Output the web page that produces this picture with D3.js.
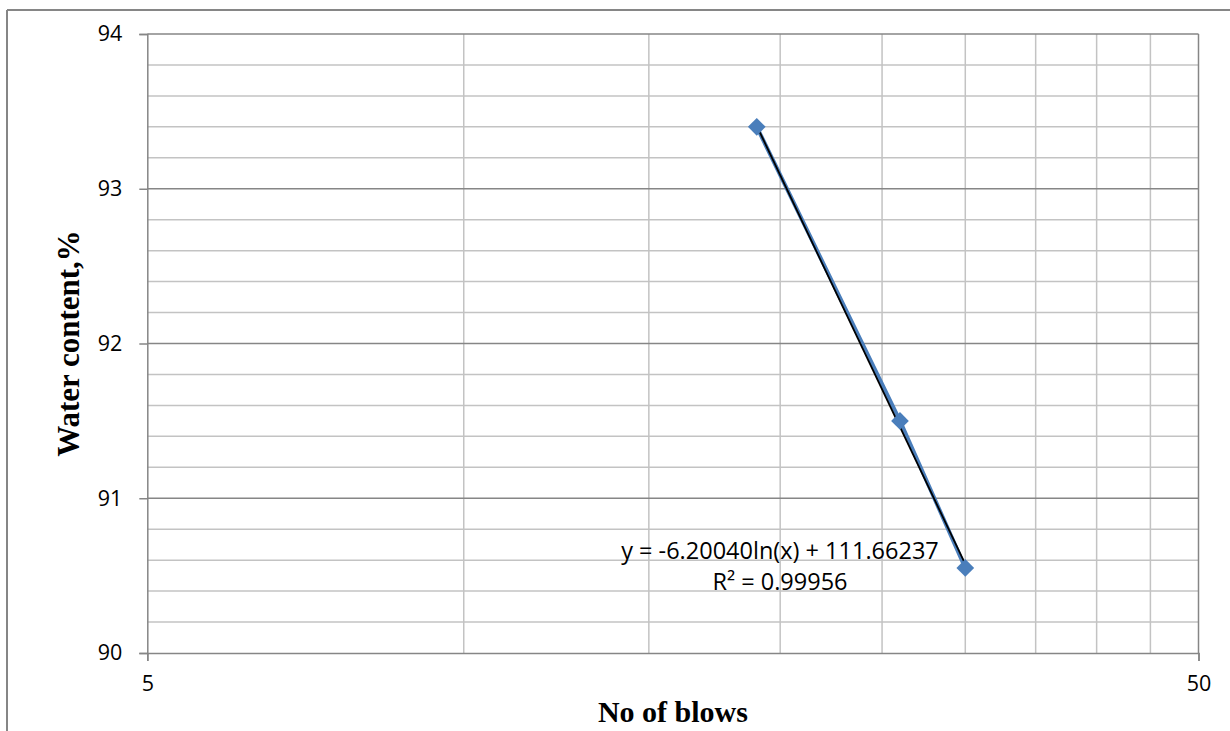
<!DOCTYPE html>
<html>
<head>
<meta charset="utf-8">
<script src="https://cdn.jsdelivr.net/npm/d3@7"></script>
<style>
  html, body { margin: 0; padding: 0; background: #fff; }
  svg { display: block; }
</style>
</head>
<body>
<svg id="chart" width="1230" height="731"></svg>
<script>
// ---- data ----
const blows = [19, 26, 30];
const waterContent = [93.4, 91.5, 90.55];
const trendSlope = -6.20040;
const trendIntercept = 111.66237;
const equationLines = ["y = -6.20040ln(x) + 111.66237", "R\u00B2 = 0.99956"];
const xTickLabels = [5, 50];
const xGridValues = [10, 15, 20, 25, 30, 35, 40, 45];
const yTickLabels = [90, 91, 92, 93, 94];
const yMinorValues = [90.2, 90.4, 90.6, 90.8, 91.2, 91.4, 91.6, 91.8, 92.2, 92.4, 92.6, 92.8, 93.2, 93.4, 93.6, 93.8];
const xTitle = "No of blows";
const yTitle = "Water content,%";

// ---- layout ----
const svg = d3.select("#chart");
const pLeft = 147.3, pRight = 1198.5, pTop = 34, pBottom = 653;
const x = d3.scaleLog().domain([5, 50]).range([pLeft, pRight]);
const y = d3.scaleLinear().domain([90, 94]).range([pBottom, pTop]);

const axisGray = "#868686";
const minorGray = "#c3c3c3";

// outer chart border (top and left visible)
svg.append("line").attr("x1", 7).attr("y1", 10).attr("x2", 1230).attr("y2", 10)
  .attr("stroke", axisGray).attr("stroke-width", 2);
svg.append("line").attr("x1", 7).attr("y1", 10).attr("x2", 7).attr("y2", 731)
  .attr("stroke", axisGray).attr("stroke-width", 2);

// minor horizontal grid
svg.append("g").selectAll("line").data(yMinorValues)
  .join("line")
  .attr("x1", pLeft).attr("x2", pRight)
  .attr("y1", d => y(d)).attr("y2", d => y(d))
  .attr("stroke", minorGray).attr("stroke-width", 1.5);

// vertical grid
svg.append("g").selectAll("line").data(xGridValues)
  .join("line")
  .attr("x1", d => x(d)).attr("x2", d => x(d))
  .attr("y1", pTop).attr("y2", pBottom)
  .attr("stroke", minorGray).attr("stroke-width", 1.5);

// major horizontal grid
svg.append("g").selectAll("line").data(yTickLabels.filter(v => v !== 90))
  .join("line")
  .attr("x1", pLeft).attr("x2", pRight)
  .attr("y1", d => y(d)).attr("y2", d => y(d))
  .attr("stroke", axisGray).attr("stroke-width", 1.5);

// right border
svg.append("line").attr("x1", pRight).attr("x2", pRight).attr("y1", pTop).attr("y2", pBottom)
  .attr("stroke", axisGray).attr("stroke-width", 1.5);

// y axis
const yAxis = d3.axisLeft(y).tickValues(yTickLabels).tickSize(8).tickPadding(17)
  .tickFormat(d3.format("d"));
const gy = svg.append("g").attr("transform", `translate(${pLeft},0)`).call(yAxis);
gy.select(".domain").attr("stroke", axisGray).attr("stroke-width", 1.5);
gy.selectAll(".tick line").attr("stroke", axisGray).attr("stroke-width", 1.5);
gy.selectAll(".tick text").attr("fill", "#000")
  .style("font-family", "'Open Sans', sans-serif").style("font-size", "21.5px");

// x axis
const xAxis = d3.axisBottom(x).tickValues(xTickLabels).tickSize(8).tickPadding(15)
  .tickFormat(d3.format("d"));
const gx = svg.append("g").attr("transform", `translate(0,${pBottom})`).call(xAxis);
gx.select(".domain").attr("stroke", axisGray).attr("stroke-width", 1.5);
gx.selectAll(".tick line").attr("stroke", axisGray).attr("stroke-width", 1.5);
gx.selectAll(".tick text").attr("fill", "#000")
  .style("font-family", "'Open Sans', sans-serif").style("font-size", "21.5px");

// series line
const line = d3.line().x((d, i) => x(blows[i])).y(d => y(d));
svg.append("path").datum(waterContent)
  .attr("d", line).attr("fill", "none")
  .attr("stroke", "#4a7ebb").attr("stroke-width", 4);

// trendline
const trendX = [d3.min(blows), d3.max(blows)];
const trendLine = d3.line().x(d => x(d)).y(d => y(trendSlope * Math.log(d) + trendIntercept));
svg.append("path").datum(trendX)
  .attr("d", trendLine).attr("fill", "none")
  .attr("stroke", "#000").attr("stroke-width", 1.8);

// markers
svg.append("g").selectAll("path").data(waterContent)
  .join("path")
  .attr("transform", (d, i) => `translate(${x(blows[i])},${y(d)})`)
  .attr("d", d3.symbol().type(d3.symbolDiamond2).size(200))
  .attr("fill", "#4a7ebb");

// equation label
const eq = svg.append("text")
  .attr("text-anchor", "middle")
  .style("font-family", "'Open Sans', sans-serif").style("font-size", "23.5px")
  .attr("fill", "#000");
eq.selectAll("tspan").data(equationLines).join("tspan")
  .attr("x", 780).attr("y", (d, i) => 559 + i * 31).text(d => d);

// axis titles
svg.append("text")
  .attr("x", (pLeft + pRight) / 2).attr("y", 722)
  .attr("text-anchor", "middle")
  .style("font-family", "'Liberation Serif', 'Times New Roman', serif")
  .style("font-weight", "bold").style("font-size", "30px")
  .text(xTitle);

svg.append("text")
  .attr("transform", `translate(79,${(pTop + pBottom) / 2}) rotate(-90)`)
  .attr("text-anchor", "middle")
  .style("font-family", "'Liberation Serif', 'Times New Roman', serif")
  .style("font-weight", "bold").style("font-size", "31px")
  .text(yTitle);
</script>
</body>
</html>
